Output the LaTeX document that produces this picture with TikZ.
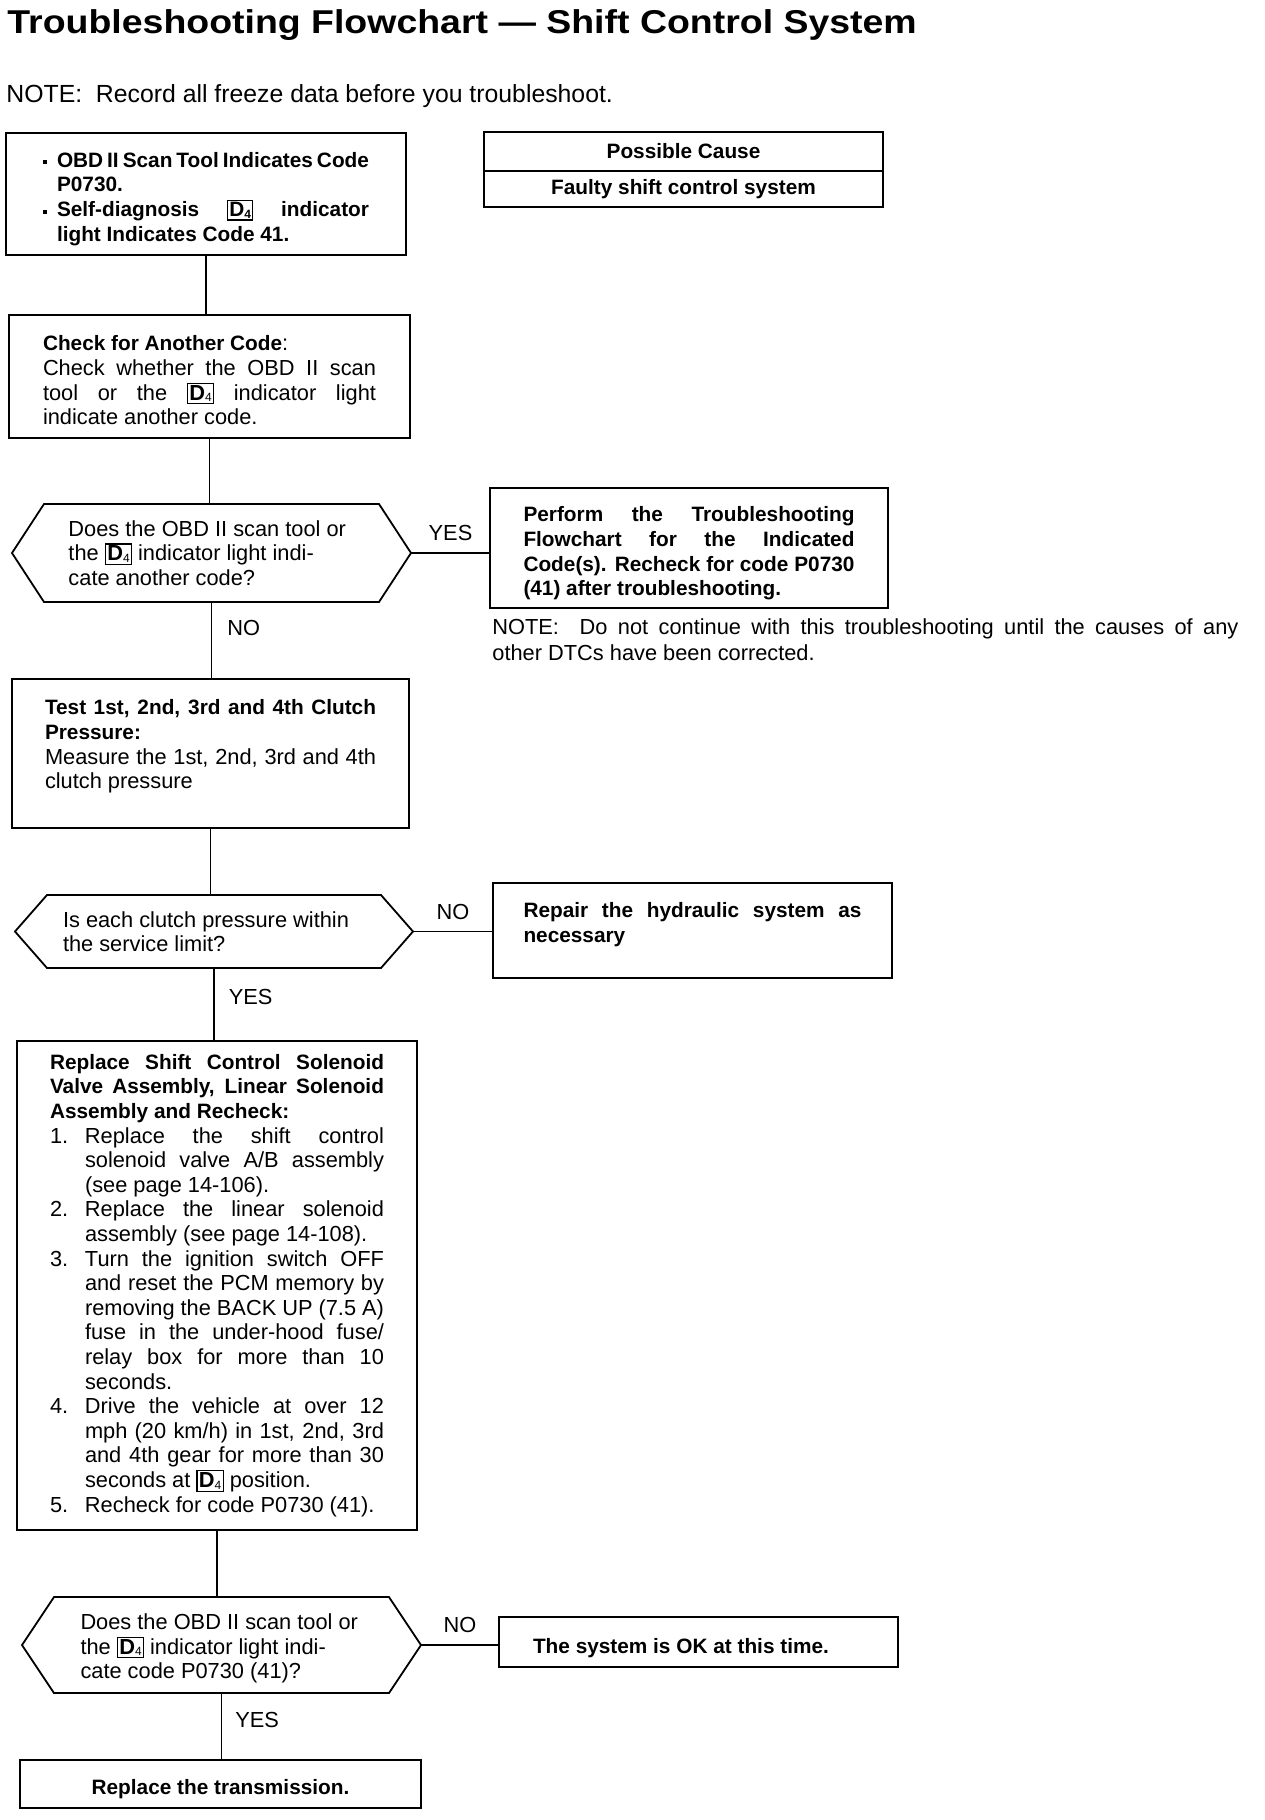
\documentclass[tikz,border=0pt]{standalone}
\usepackage{fontspec}
\setmainfont{Liberation Sans}
\usepackage{graphicx}
\usetikzlibrary{positioning,calc}

\newcommand{\bodyfont}{\fontsize{10.9}{12.3}\selectfont}
\newcommand{\hd}{\fontsize{10.4}{12.3}\selectfont\bfseries}
% boxed D4 position symbol
\newcommand{\dfour}{{\setlength{\fboxsep}{0.6pt}\setlength{\fboxrule}{0.6pt}\fbox{\textbf{D}\raisebox{-0.15ex}{\fontsize{6}{6}\selectfont 4}}}}
\newcommand{\bul}{\rule[0.28ex]{2pt}{2pt}}
% spread lines and hanging steps
\newlength{\stepind}
\setlength{\stepind}{17.5pt}
\newcommand{\jl}[1]{\makebox[\hsize][s]{\spaceskip=0pt\xspaceskip=0pt\relax #1}}
\newcommand{\jstep}[2]{\makebox[\stepind][l]{#1}\makebox[\dimexpr\hsize-\stepind\relax][s]{\spaceskip=0pt\xspaceskip=0pt\relax #2}}
\newcommand{\jcont}[1]{\hspace*{\stepind}\makebox[\dimexpr\hsize-\stepind\relax][s]{\spaceskip=0pt\xspaceskip=0pt\relax #1}}
\newcommand{\pstep}[2]{\makebox[\stepind][l]{#1}#2}
\newcommand{\pcont}[1]{\hspace*{\stepind}#1}
% hexagon round a decision node
\newcommand{\hexframe}[1]{\draw[link] (#1.west) -- ([xshift=16pt]#1.north west) -- ([xshift=-16pt]#1.north east) -- (#1.east) -- ([xshift=-16pt]#1.south east) -- ([xshift=16pt]#1.south west) -- cycle;}

\begin{document}
\begin{tikzpicture}[
  x=0.5pt, y=-0.5pt,
  box/.style={draw, line width=0.9pt, align=flush left, inner sep=0pt, outer sep=0pt, font=\bodyfont},
  boldbox/.style={box, font=\hd},
  decision/.style={align=flush left, inner sep=0pt, outer sep=0pt, font=\bodyfont},
  link/.style={line width=0.9pt},
  lbl/.style={font=\bodyfont, inner sep=1pt}
]
\useasboundingbox[fill=white] (0,0) rectangle (1264,1820);

% heading
\node[anchor=base west, inner sep=0pt] (title) at (7,33)
  {\scalebox{1.135}[1]{\fontsize{16.5}{20}\selectfont\bfseries Troubleshooting Flowchart --- Shift Control System}};
\node[anchor=base west, inner sep=0pt, font=\fontsize{12.4}{14}\selectfont] (note) at (6,102)
  {NOTE:\ \ Record all freeze data before you troubleshoot.};

% possible cause
\node[boldbox, align=center, minimum width=199.5pt, minimum height=19.5pt] (cause) at (683.5,151.5) {Possible Cause};
\node[boldbox, align=center, minimum width=199.5pt, minimum height=18pt, below=0pt of cause] (fault) {Faulty shift control system};

% main column
\node[boldbox, minimum width=200pt, minimum height=61pt, text width=163pt] (start) at (206,194)
  {\setlength{\stepind}{7pt}%
   \rule{0pt}{12.5pt}\jstep{\bul}{OBD II Scan Tool Indicates Code}\\
   \pcont{P0730.}\\
   \jstep{\bul}{Self-diagnosis \dfour{} indicator}\\
   \pcont{light Indicates Code 41.}};

\node[box, minimum width=200.5pt, minimum height=61.5pt, text width=166.5pt] (check) at (209.5,376.5)
  {\rule{0pt}{11.4pt}{\hd Check for Another Code}:\\
   \jl{Check whether the OBD II scan}\\
   \jl{tool or the \dfour{} indicator light}\\
   indicate another code.};

\node[decision, minimum width=199.5pt, minimum height=49pt, text width=143pt] (dec1) at (211.5,553)
  {Does the OBD II scan tool or\\
   the \dfour{} indicator light indi-\\
   cate another code?};
\hexframe{dec1}

\node[boldbox, minimum width=199pt, minimum height=60.25pt, text width=165.5pt] (perform) at (689,548)
  {\rule{0pt}{13pt}\jl{Perform the Troubleshooting}\\
   \jl{Flowchart for the Indicated}\\
   \jl{Code(s). Recheck for code P0730}\\
   (41) after troubleshooting.};

\node[anchor=north west, inner sep=0pt, text width=373pt, align=flush left, font=\fontsize{10.9}{13}\selectfont] (dtcnote) at (492,618)
  {\jl{NOTE:\ \ Do not continue with this troubleshooting until the causes of any}\\
   other DTCs have been corrected.};

\node[box, minimum width=198.5pt, minimum height=74.5pt, text width=165.5pt] (test) at (210.5,753.5)
  {{\hd\jl{Test 1st, 2nd, 3rd and 4th Clutch}}\\
   {\hd Pressure:}\\
   \jl{Measure the 1st, 2nd, 3rd and 4th}\\
   clutch pressure\rule[-9.3pt]{0pt}{9.3pt}};

\node[decision, minimum width=199pt, minimum height=36.5pt, text width=151pt] (dec2) at (214,931.5)
  {Is each clutch pressure within\\
   the service limit?};
\hexframe{dec2}

\node[boldbox, minimum width=199.5pt, minimum height=47.5pt, text width=169pt] (repair) at (692.5,930.5)
  {\jl{Repair the hydraulic system as}\\
   necessary\rule[-8.3pt]{0pt}{8.3pt}};

\node[box, minimum width=200pt, minimum height=244.5pt, text width=167pt] (replace) at (217,1285.5)
  {{\hd\jl{Replace Shift Control Solenoid}}\\
   {\hd\jl{Valve Assembly, Linear Solenoid}}\\
   {\hd Assembly and Recheck:}\\
   \jstep{1.}{Replace the shift control}\\
   \jcont{solenoid valve A/B assembly}\\
   \pcont{(see page 14-106).}\\
   \jstep{2.}{Replace the linear solenoid}\\
   \pcont{assembly (see page 14-108).}\\
   \jstep{3.}{Turn the ignition switch OFF}\\
   \jcont{and reset the PCM memory by}\\
   \jcont{removing the BACK UP (7.5 A)}\\
   \jcont{fuse in the under-hood fuse/}\\
   \jcont{relay box for more than 10}\\
   \pcont{seconds.}\\
   \jstep{4.}{Drive the vehicle at over 12}\\
   \jcont{mph (20 km/h) in 1st, 2nd, 3rd}\\
   \jcont{and 4th gear for more than 30}\\
   \pcont{seconds at \dfour{} position.}\\
   \pstep{5.}{Recheck for code P0730 (41).}};

\node[decision, minimum width=199.5pt, minimum height=48pt, text width=141pt] (dec3) at (221.5,1645)
  {\rule{0pt}{11.3pt}Does the OBD II scan tool or\\
   the \dfour{} indicator light indi-\\
   cate code P0730 (41)?};
\hexframe{dec3}

\node[boldbox, minimum width=199.5pt, minimum height=25pt, text width=165.5pt] (okay) at (698.5,1642)
  {\rule{0pt}{13.5pt}The system is OK at this time.};

\node[boldbox, align=center, minimum width=200.5pt, minimum height=24pt] (trans) at (220.5,1784)
  {\rule{0pt}{12.5pt}Replace the transmission.};

% connectors
\draw[link] (start.south) -- (start.south |- check.north);
\draw[link] (check.south) -- (check.south |- dec1.north);
\draw[link] (dec1.east) -- node[lbl, above=4.5pt] (yes1) {YES} (dec1.east -| perform.west);
\draw[link] (dec1.south) -- node[lbl, right=6.5pt, pos=0.34] (no1) {NO} (dec1.south |- test.north);
\draw[link] (test.south) -- (test.south |- dec2.north);
\draw[link] (dec2.east) -- node[lbl, above=4.5pt] (no2) {NO} (dec2.east -| repair.west);
\draw[link] (dec2.south) -- node[lbl, right=6pt, pos=0.4] (yes2) {YES} (dec2.south |- replace.north);
\draw[link] (replace.south) -- (replace.south |- dec3.north);
\draw[link] (dec3.east) -- node[lbl, above=4.5pt] (no3) {NO} (dec3.east -| okay.west);
\draw[link] (dec3.south) -- node[lbl, right=5.5pt, pos=0.4] (yes3) {YES} (dec3.south |- trans.north);
\end{tikzpicture}
\end{document}
